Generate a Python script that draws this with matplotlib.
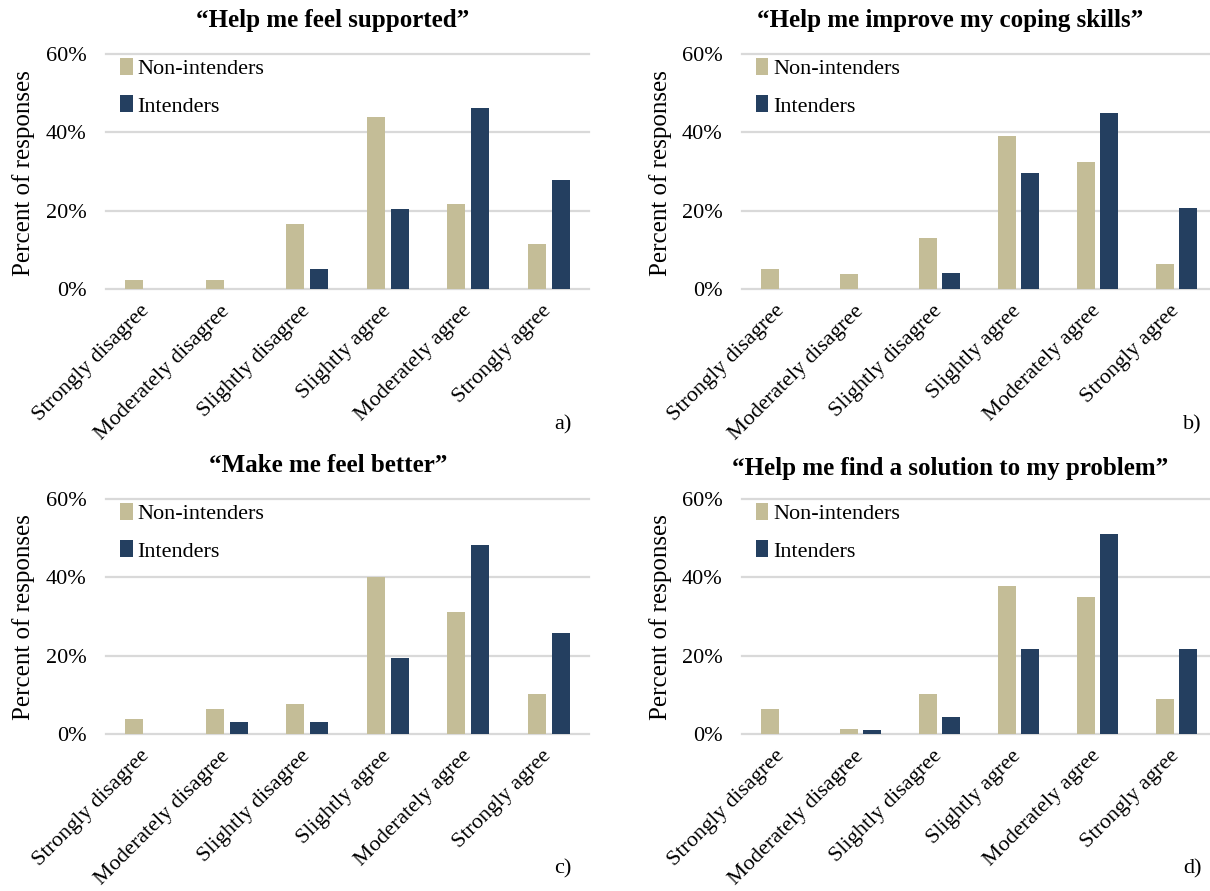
import matplotlib.pyplot as plt
import numpy as np

plt.rcParams["font.family"] = ["Liberation Serif", "DejaVu Serif"]

categories = ["Strongly disagree", "Moderately disagree", "Slightly disagree",
              "Slightly agree", "Moderately agree", "Strongly agree"]
series_names = ["Non-intenders", "Intenders"]

titles = ["\u201cHelp me feel supported\u201d",
          "\u201cHelp me improve my coping skills\u201d",
          "\u201cMake me feel better\u201d",
          "\u201cHelp me find a solution to my problem\u201d"]
panel_tags = ["a)", "b)", "c)", "d)"]

# percent of responses
supported_non = [2.3, 2.3, 16.7, 44.0, 21.8, 11.6]
supported_int = [0.0, 0.0, 5.2, 20.3, 46.1, 27.8]
coping_non = [5.1, 3.8, 12.9, 39.0, 32.3, 6.3]
coping_int = [0.0, 0.0, 4.2, 29.5, 45.0, 20.8]
better_non = [3.8, 6.4, 7.7, 40.2, 31.1, 10.3]
better_int = [0.0, 3.1, 3.1, 19.3, 48.3, 25.8]
solution_non = [6.5, 1.3, 10.3, 37.8, 35.0, 9.0]
solution_int = [0.0, 1.0, 4.3, 21.6, 51.0, 21.6]

panel_data = [(supported_non, supported_int), (coping_non, coping_int),
              (better_non, better_int), (solution_non, solution_int)]

TAN = "#C4BD97"
NAVY = "#243F60"
GRID = "#D9D9D9"

W, H = 1210, 891
fig = plt.figure(figsize=(W / 100, H / 100), dpi=100)


def px_axes(x0, x1, y0, y1):
    return fig.add_axes([x0 / W, 1 - y1 / H, (x1 - x0) / W, (y1 - y0) / H])


# pixel boxes for the four panels, plus title / ylabel / tag anchors
boxes = [(106, 589, 54, 289), (742, 1216, 54, 289),
         (106, 589, 499, 734), (742, 1216, 499, 734)]
title_pos = [(333, 20), (950, 20), (328, 466), (950, 468)]
ylab_pos = [(24, 173), (661, 173), (24, 617), (661, 617)]
tag_pos = [(563, 425), (1192, 425), (563, 869), (1192, 869)]

x = np.arange(len(categories))
bw = 0.222
off = 0.147

for i, (vals_non, vals_int) in enumerate(panel_data):
    ax = px_axes(*boxes[i])
    ax.bar(x - off, vals_non, bw, color=TAN, label=series_names[0], zorder=3)
    ax.bar(x + off, vals_int, bw, color=NAVY, label=series_names[1], zorder=3)

    ax.set_xlim(-0.5, len(categories) - 0.5)
    ax.set_ylim(0, 60)
    ax.set_yticks([0, 20, 40, 60])
    ax.set_yticklabels(["0%", "20%", "40%", "60%"], fontsize=16)
    ax.set_xticks(x)
    ax.set_xticklabels(categories, fontsize=16, rotation=45, ha="right",
                       va="center", rotation_mode="anchor")
    ax.tick_params(axis="both", length=0)
    ax.tick_params(axis="x", pad=14)
    ax.tick_params(axis="y", pad=14)
    for s in ax.spines.values():
        s.set_visible(False)
    for v in [0, 20, 40, 60]:
        ax.axhline(v, color=GRID, lw=1.6, zorder=1, clip_on=False)

    ax.legend(loc="upper left", bbox_to_anchor=(0.03, 0.985), frameon=False,
              fontsize=16, handlelength=0.55, handleheight=0.8,
              handletextpad=0.2, labelspacing=0.75, borderpad=0,
              borderaxespad=0)

    tx, ty = title_pos[i]
    fig.text(tx / W, 1 - ty / H, titles[i], ha="center", va="center",
             fontsize=18, fontweight="bold")
    lx, ly = ylab_pos[i]
    fig.text(lx / W, 1 - ly / H, "Percent of responses", ha="center",
             va="center", rotation=90, fontsize=18)
    gx, gy = tag_pos[i]
    fig.text(gx / W, 1 - gy / H, panel_tags[i], ha="center", va="center",
             fontsize=16)

fig.savefig("out.png", dpi=100)
